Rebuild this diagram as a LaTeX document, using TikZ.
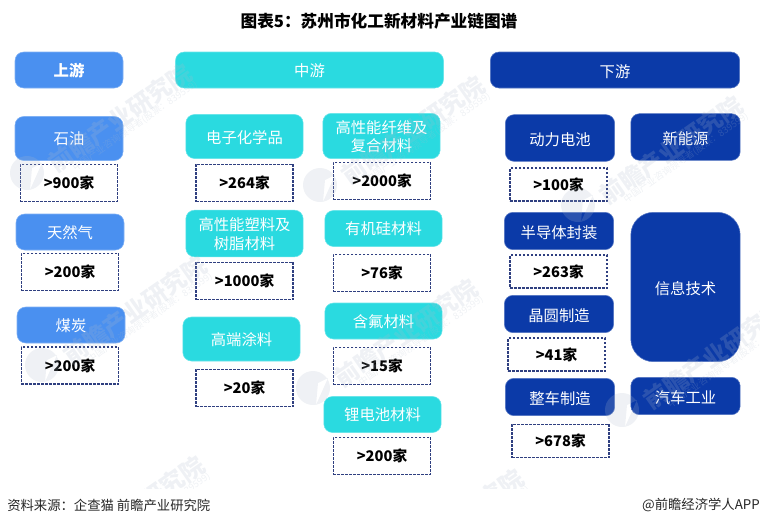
\documentclass[tikz,border=0pt]{standalone}
\usepackage{fontspec}
\setmainfont{Noto Sans CJK SC}
\definecolor{upblue}{HTML}{4A90F0}
\definecolor{midcyan}{HTML}{2ADAE0}
\definecolor{downblue}{HTML}{0B3AA8}
\definecolor{dashnavy}{HTML}{2F3F80}
\definecolor{markgray}{HTML}{AEBBCB}
\newcommand{\widecolon}{\symbol{"FF1A}}
\tikzset{
  card/.style={rounded corners=6.5pt,text=white,font=\fontsize{11.5}{14}\selectfont,
    inner sep=0pt,align=center,text depth=0pt},
  upcard/.style={card,fill=upblue,draw=upblue!70!white,minimum width=81pt},
  midcard/.style={card,fill=midcyan,draw=midcyan!70!white,minimum width=88pt},
  downcard/.style={card,fill=downblue,draw=downblue!70!white,minimum width=82pt,text height=11.4pt},
  countbox/.style={draw=dashnavy,line width=1.2pt,dash pattern=on 2pt off 1pt,
    font=\fontsize{11}{13}\selectfont\bfseries,text=black,inner sep=0pt,
    minimum width=73pt,minimum height=28pt},
  markname/.style={text=markgray,opacity=0.2,font=\fontsize{18}{22}\selectfont\bfseries,rotate=35},
  marksub/.style={text=markgray,opacity=0.2,font=\fontsize{7}{8}\selectfont,rotate=35},
  footnote/.style={inner sep=0pt,font=\fontsize{10}{12}\selectfont,text=black!85}
}
\begin{document}
\begin{tikzpicture}[x=0.75pt,y=-0.75pt]
\useasboundingbox (0,0) rectangle (760,526);
\node (title) at (379,21) [font=\fontsize{12.5}{15}\selectfont\bfseries] {图表5\widecolon 苏州市化工新材料产业链图谱};
% header row
\node (up) at (69,70) [upcard,minimum height=27pt,font=\fontsize{11.5}{14}\selectfont\bfseries] {上游};
\node (mid) at (309.5,70) [midcard,minimum width=201pt,minimum height=27pt] {中游};
\node (down) at (615,70) [downcard,minimum width=187pt,minimum height=27pt] {下游};
% upstream
\node (oil) at (69,138.5) [upcard,minimum height=33pt] {石油};
\node (oilN) at (69,183) [countbox] {>900家};
\node (gas) at (70,232) [upcard,minimum height=27pt] {天然气};
\node (gasN) at (70,272) [countbox] {>200家};
\node (coal) at (71,325) [upcard,minimum height=27pt] {煤炭};
\node (coalN) at (70,365.5) [countbox] {>200家};
% midstream, left column
\node (chem) at (244.5,136.5) [midcard,minimum height=33pt] {电子化学品};
\node (chemN) at (244.5,183) [countbox] {>264家};
\node (plastic) at (244.5,233.5) [midcard,minimum height=35pt] {高性能塑料及\\树脂材料};
\node (plasticN) at (244.5,281) [countbox] {>1000家};
\node (coat) at (241.5,339) [midcard,minimum height=33pt] {高端涂料};
\node (coatN) at (244.5,388) [countbox] {>20家};
% midstream, right column
\node (fiber) at (381.5,136) [midcard,minimum height=34pt] {高性能纤维及\\复合材料};
\node (fiberN) at (382,181) [countbox] {>2000家};
\node (silicon) at (383.5,228.5) [midcard,minimum height=27pt] {有机硅材料};
\node (siliconN) at (382,273) [countbox] {>76家};
\node (fluor) at (383.5,321) [midcard,minimum height=27pt] {含氟材料};
\node (fluorN) at (382,366) [countbox] {>15家};
\node (lith) at (382.5,414.5) [midcard,minimum height=27pt] {锂电池材料};
\node (lithN) at (382,456) [countbox] {>200家};
% downstream, left column
\node (power) at (560,138) [downcard,minimum height=35pt] {动力电池};
\node (powerN) at (558.5,184.5) [countbox,minimum height=24.5pt] {>100家};
\node (pack) at (559,231) [downcard,minimum height=28pt] {半导体封装};
\node (packN) at (558.5,271.5) [countbox,minimum height=24.5pt] {>263家};
\node (wafer) at (559,314) [downcard,minimum height=28pt] {晶圆制造};
\node (waferN) at (556.5,354.5) [countbox,minimum height=24.5pt] {>41家};
\node (vehicle) at (560,397) [downcard,minimum height=28pt] {整车制造};
\node (vehicleN) at (560.5,441) [countbox,minimum height=25pt] {>678家};
% downstream, right column
\node (energy) at (685.5,137) [downcard,minimum height=35pt] {新能源};
\node (info) at (685.5,287) [downcard,minimum height=112pt,rounded corners=17pt] {信息技术};
\node (auto) at (685.5,396) [downcard,minimum height=28pt] {汽车工业};
% footer
\node (source) at (7,505) [footnote,anchor=west] {资料来源\widecolon 企查猫 前瞻产业研究院};
\node (brand) at (760,505) [footnote,anchor=east] {@前瞻经济学人APP};
% watermark
\begin{scope}
\clip (0,0) rectangle (760,488);
\foreach \mx/\my [count=\n] in {120/118,413/130,671/150,135/310,406/333,715/355,133/510,452/523}{
  \fill[markgray,opacity=0.2,even odd rule] (\mx-93,\my+55) circle (17) (\mx-88,\my+50) -- (\mx-78,\my+45) -- (\mx-90,\my+72) -- cycle;
  \node (wmname\n) at (\mx,\my) [markname] {前瞻产业研究院};
  \node (wmsub\n) at (\mx+15,\my+8) [marksub] {中国产业咨询领导者(股票\widecolon 839599)};
}
\end{scope}
\end{tikzpicture}
\end{document}
